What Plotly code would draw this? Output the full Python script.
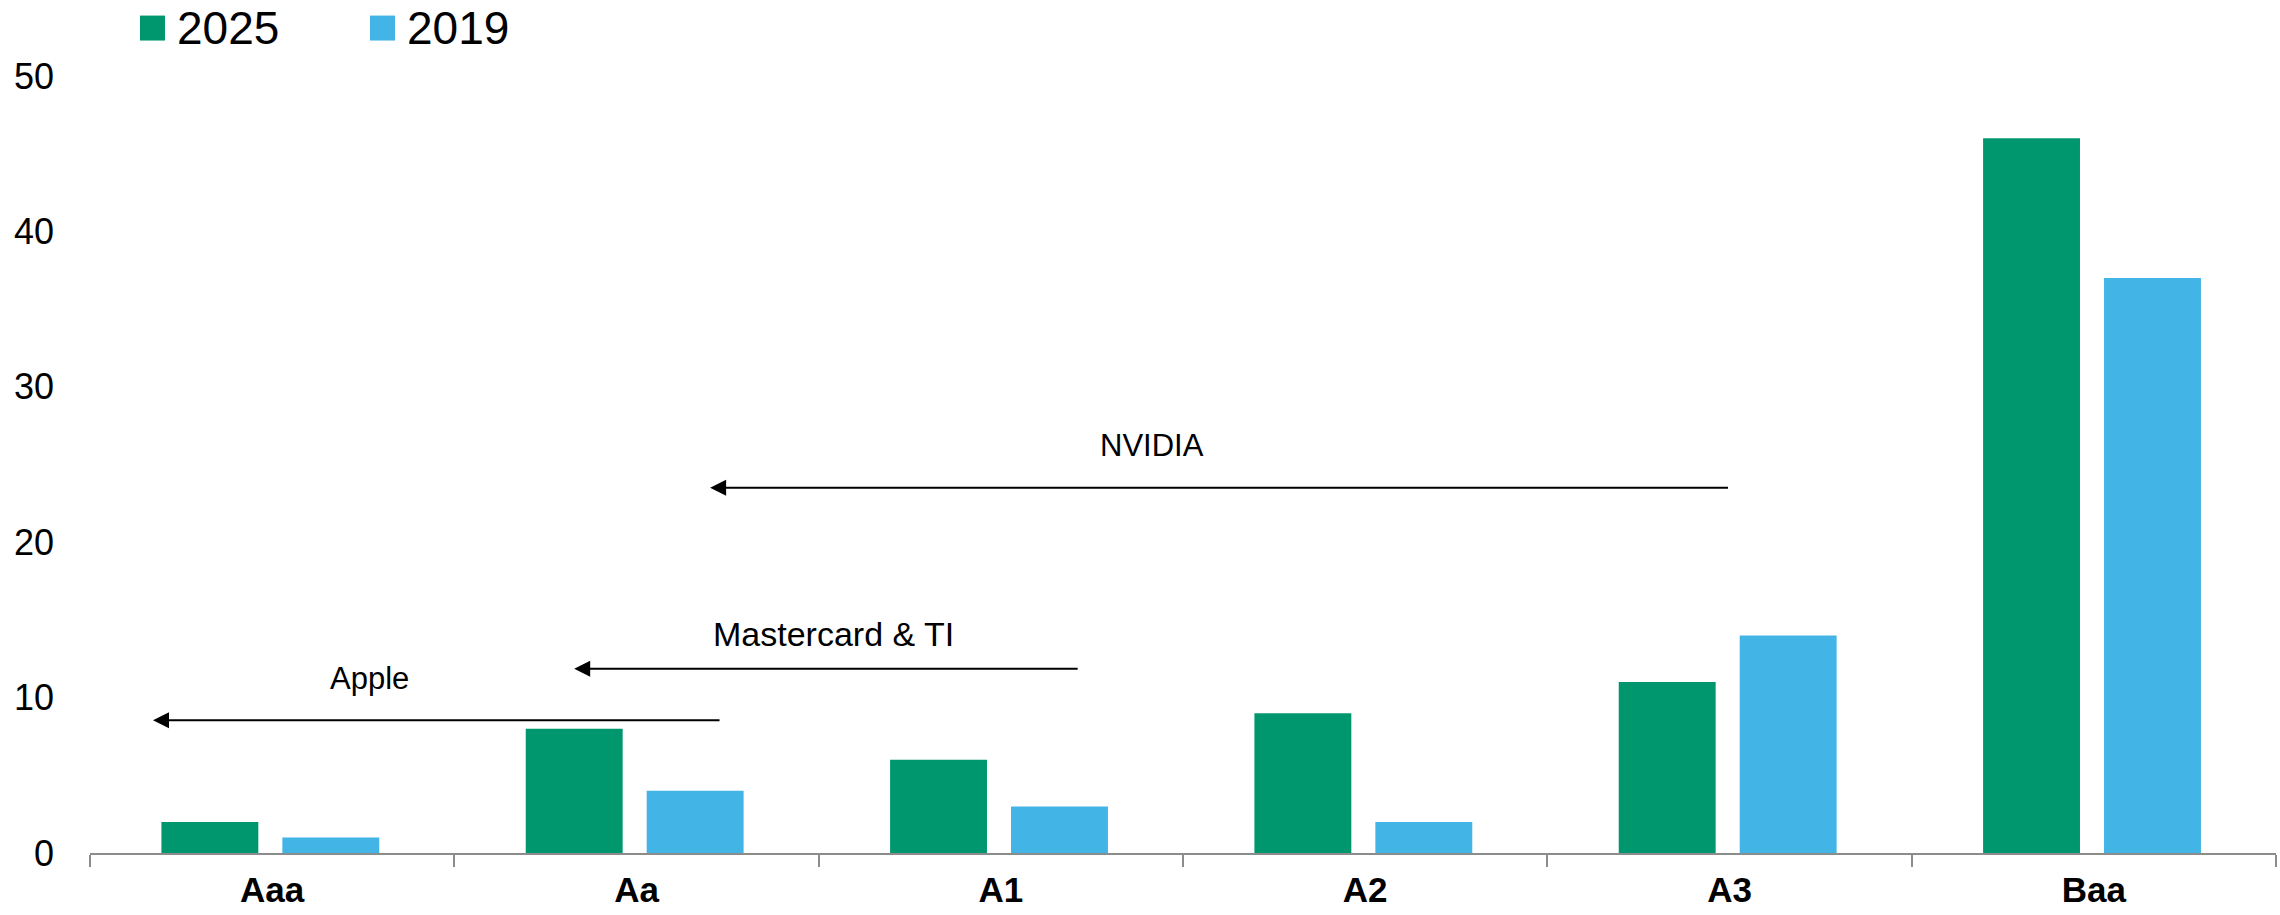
import plotly.graph_objects as go

# Rating buckets and counts per year
categories = ["Aaa", "Aa", "A1", "A2", "A3", "Baa"]
values_2025 = [2, 8, 6, 9, 11, 46]
values_2019 = [1, 4, 3, 2, 14, 37]
series_names = ["2025", "2019"]

# Migration arrows: label, tail x, head x, level, label position
arrow_labels = ["NVIDIA", "Mastercard & TI", "Apple"]
arrow_tail_x = [4.0, 2.215, 1.232]
arrow_head_x = [1.202, 0.829, -0.327]
arrow_y = [23.5, 11.86, 8.55]
label_x = [2.415, 1.54, 0.266]
label_y = [26.25, 14.1, 11.2]
label_size = [31, 34, 31]

GREEN = "#00976F"
BLUE = "#42B4E5"
FONT = "Liberation Sans, Arial, sans-serif"

fig = go.Figure()
fig.add_trace(go.Bar(
    x=categories, y=values_2025, name=series_names[0],
    marker=dict(color=GREEN, line=dict(width=0)),
    width=0.266, offset=-0.304, showlegend=False,
))
fig.add_trace(go.Bar(
    x=categories, y=values_2019, name=series_names[1],
    marker=dict(color=BLUE, line=dict(width=0)),
    width=0.266, offset=0.028, showlegend=False,
))

annotations = []
for lab, tx, hx, ay, lx, ly, fs in zip(arrow_labels, arrow_tail_x, arrow_head_x,
                                        arrow_y, label_x, label_y, label_size):
    annotations.append(dict(
        x=hx, y=ay, ax=tx, ay=ay, xref="x", yref="y", axref="x", ayref="y",
        text="", showarrow=True, arrowhead=2, arrowsize=1.6, arrowwidth=2,
        arrowcolor="#000000", standoff=0, startstandoff=0,
    ))
    annotations.append(dict(
        x=lx, y=ly, xref="x", yref="y", text=lab, showarrow=False,
        font=dict(family=FONT, size=fs, color="#000000"),
        xanchor="center", yanchor="middle",
    ))

# Legend drawn as swatches + labels along the top
legend_colors = [GREEN, BLUE]
legend_x0 = [140, 370]
shapes = []
for name, col, x0 in zip(series_names, legend_colors, legend_x0):
    shapes.append(dict(
        type="rect", xref="paper", yref="paper",
        x0=(x0 - 90) / 2186, x1=(x0 + 25 - 90) / 2186,
        y0=(853.5 - 40) / 778, y1=(853.5 - 15) / 778,
        fillcolor=col, line=dict(width=0),
    ))
    annotations.append(dict(
        x=(x0 + 35 - 90) / 2186, y=(853.5 - 27.5) / 778,
        xref="paper", yref="paper", text=name, showarrow=False,
        xanchor="left", yanchor="middle",
        font=dict(family=FONT, size=46, color="#000000"),
    ))

fig.update_layout(
    width=2280, height=915,
    margin=dict(l=90, r=4, t=75.5, b=61.5),
    paper_bgcolor="white", plot_bgcolor="white",
    font=dict(family=FONT, color="#000000"),
    showlegend=False,
    annotations=annotations,
    shapes=shapes,
    xaxis=dict(
        type="category", range=[-0.5, 5.5],
        showline=True, linecolor="#8C8C8C", linewidth=1.5,
        ticks="outside", tickson="boundaries", ticklen=12,
        tickcolor="#8C8C8C", tickwidth=1.5,
        tickfont=dict(family=FONT, size=35, color="#000000", weight="bold"),
        ticklabelstandoff=5,
        showgrid=False, zeroline=False,
    ),
    yaxis=dict(
        range=[0, 50], tickvals=[0, 10, 20, 30, 40, 50],
        showline=False, showgrid=False, zeroline=False, ticks="",
        tickfont=dict(family=FONT, size=36, color="#000000"),
        ticklabelstandoff=35,
    ),
)

fig.write_html("out.html")
